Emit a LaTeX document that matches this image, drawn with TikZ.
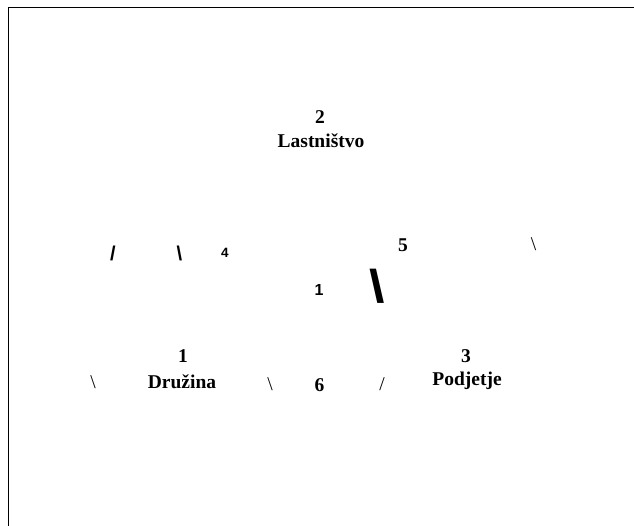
\documentclass[tikz,border=0pt]{standalone}
\usepackage{fontspec}
\setmainfont{Liberation Serif}
\setsansfont{Liberation Sans}
\begin{document}
\begin{tikzpicture}[x=1pt,y=-1pt,
  lbl/.style={inner sep=0pt,font=\fontsize{19.5}{23}\selectfont\bfseries},
  thinslash/.style={inner sep=0pt,font=\fontsize{19.5}{23}\selectfont},
  sansmark/.style={inner sep=0pt,font=\sffamily\bfseries\fontsize{#1}{#1}\selectfont}]
\useasboundingbox (0,0) rectangle (634,526);
\draw[line width=1pt] (8,530) -- (8,8) -- (640,8);
% top group
\node[lbl] (n2) at (320,117) {2};
\node[lbl] (own) at (321,141) {Lastništvo};
% middle row
\node[sansmark=20] (s1) at (113,253.5) {/};
\node[sansmark=20] (s2) at (179.5,253.5) {\textbackslash};
\node[sansmark=13.5] (n4) at (225,252.5) {4};
\node[lbl] (n5) at (403,245) {5};
\node[thinslash] (s3) at (533.5,244) {\textbackslash};
\node[sansmark=16] (c1) at (319,290) {1};
\node[sansmark=46,xscale=1.2] (big) at (377,286.5) {\textbackslash};
% bottom row
\node[lbl] (n1) at (183,356) {1};
\node[lbl] (fam) at (182,382) {Družina};
\node[thinslash] (s4) at (93,382) {\textbackslash};
\node[thinslash] (s5) at (270,384) {\textbackslash};
\node[lbl] (n6) at (319.5,385) {6};
\node[thinslash] (s6) at (382,384) {/};
\node[lbl] (n3) at (466,356) {3};
\node[lbl] (firm) at (467,381) {Podjetje};
\end{tikzpicture}
\end{document}
